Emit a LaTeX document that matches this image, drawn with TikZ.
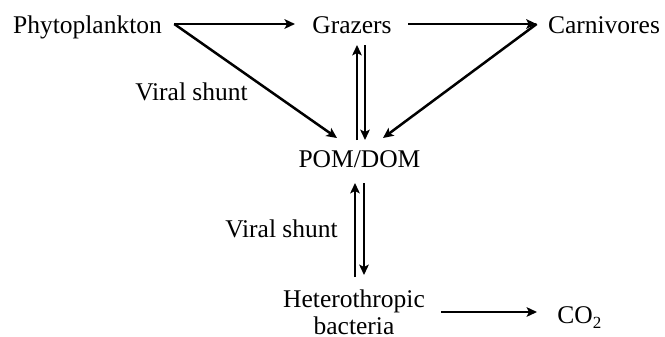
\documentclass[tikz,border=0pt]{standalone}
\usepackage{fontspec}
\setmainfont{Liberation Serif}
\usetikzlibrary{arrows.meta}
\begin{document}
\begin{tikzpicture}[x=0.5pt,y=-0.5pt,
  label/.style={inner sep=0pt,font=\fontsize{12.75}{13.5}\selectfont},
  flow/.style={line width=1.25pt,-{Stealth[length=5.2pt,width=4.8pt,inset=1.2pt]}}]
\useasboundingbox (0,0) rectangle (665,337);

% compartments
\node[label,anchor=base] (phyto) at (87.5,33) {Phytoplankton};
\node[label,anchor=base] (graz) at (352,33) {Grazers};
\node[label,anchor=base] (carn) at (604,33) {Carnivores};
\node[label,anchor=base] (pom) at (359.5,167) {POM/DOM};
\node[label,anchor=north,align=center] (bact) at (354,289) {Heterothropic\\bacteria};
\node[label,anchor=base west] (co2) at (557,323) {CO\raisebox{-0.5ex}{\fontsize{8.5}{9}\selectfont 2}};

% flow labels
\node[label,anchor=base] (vs1) at (191.5,100) {Viral shunt};
\node[label,anchor=base] (vs2) at (281.5,237) {Viral shunt};

% grazing food chain
\draw[flow] ([shift={(12,-9)}]phyto.base east) -- ([shift={(-17,-9)}]graz.base west);
\draw[flow] ([shift={(16,-9)}]graz.base east) -- ([shift={(-11,-9)}]carn.base west);

% losses to organic matter
\draw[flow] ([shift={(12,-9)}]phyto.base east) -- ([shift={(-22.5,-29)}]pom.base);
\draw[flow] ([shift={(-11,-9)}]carn.base west) -- ([shift={(23.5,-29)}]pom.base);

% exchange between grazers and organic matter
\draw[flow] ([shift={(-2.5,-27)}]pom.base) -- ([shift={(5,12)}]graz.base);
\draw[flow] ([shift={(13,12)}]graz.base) -- ([shift={(5.5,-27)}]pom.base);

% microbial loop
\draw[flow] ([shift={(1,-12)}]bact.north) -- ([shift={(-4.5,16)}]pom.base);
\draw[flow] ([shift={(4.5,16)}]pom.base) -- ([shift={(10,-14)}]bact.north);

% respiration
\draw[flow] ([shift={(16,23)}]bact.north east) -- ([shift={(-20,-11)}]co2.base west);
\end{tikzpicture}
\end{document}
